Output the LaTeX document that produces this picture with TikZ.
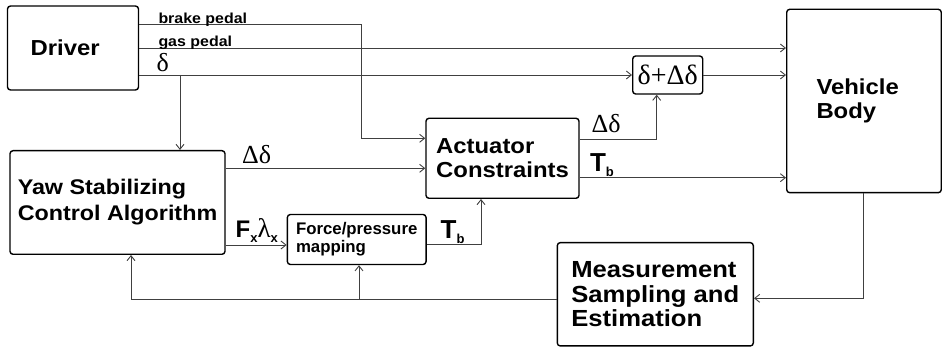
\documentclass[tikz,border=0pt]{standalone}
\usepackage{fontspec}
\setmainfont{Liberation Sans}
\newfontfamily\widesf[FakeStretch=1.1]{Liberation Sans}
\newfontfamily\timesf{Liberation Serif}
\usetikzlibrary{arrows.meta, positioning}
\newcommand{\lowsub}[1]{\raisebox{-5pt}{\fontsize{13}{13}\selectfont\bfseries #1}}

\begin{document}
\begin{tikzpicture}[
x=1pt, y=-1pt,
block/.style = {draw, line width=1.4pt, rounded corners=3pt, align=left,
                inner sep=0pt, font=\widesf\bfseries\fontsize{21.7}{24.5}\selectfont},
sig/.style = {draw=black!75, line width=0.9pt,
              -{Straight Barb[length=5pt,width=8pt]}},
lbl/.style = {inner sep=0pt, anchor=base west,
              font=\widesf\bfseries\fontsize{14.5}{17}\selectfont},
grk/.style = {inner sep=0pt, anchor=base west,
              font=\timesf\fontsize{26}{28}\selectfont},
big/.style = {inner sep=0pt, anchor=base west,
              font=\bfseries\fontsize{26}{28}\selectfont},
                        ]
\useasboundingbox (0,0) rectangle (943,347);
% blocks
\node (drv)  [block, minimum width=131pt, minimum height=84pt,
              text width=84.6pt]                                at (73,48)     {Driver};
\node (yaw)  [block, minimum width=215pt, minimum height=103.6pt,
              font=\widesf\bfseries\fontsize{21.2}{26}\selectfont] at (117.5,202.5) {Yaw Stabilizing\\Control Algorithm};
\node (frc)  [block, minimum width=138.7pt, minimum height=50pt,
              font=\bfseries\fontsize{16.8}{18}\selectfont]    at (356.7,239.5) {Force/pressure\\mapping};
\node (act)  [block, minimum width=153pt, minimum height=80pt]  at (502.5,158.3) {Actuator\\Constraints};
\node (sum)  [block, minimum width=70pt, minimum height=38pt,
              font=\timesf\fontsize{28}{30}\selectfont]        at (667.7,75)  {δ+Δδ};
\node (veh)  [block, minimum width=154.5pt, minimum height=183.4pt,
              text width=95pt]                                  at (864,101)   {Vehicle\\Body};
\node (meas) [block, minimum width=196pt, minimum height=103.3pt,
              font=\widesf\bfseries\fontsize{23.3}{24.5}\selectfont] at (655.3,294.3) {Measurement\\Sampling and\\Estimation};
% signals
\coordinate (dsplit) at (180,75);
\coordinate (fb) at ([yshift=-5pt]meas.west);
\draw[sig] ([yshift=24pt]drv.east) -- ++(222,0) |- ([yshift=20pt]act.west);
\draw[sig] (drv.east) -- (drv.east -| veh.west);
\draw[sig] ([yshift=-27pt]drv.east) -- (sum.west);
\draw[sig] (dsplit) -- (dsplit |- yaw.north);
\draw[sig] (sum.east) -- (sum.east -| veh.west);
\draw[sig] ([yshift=-10pt]act.west -| yaw.east) -- ([yshift=-10pt]act.west);
\draw[sig] ([yshift=-5.5pt]frc.west -| yaw.east) -- ([yshift=-5.5pt]frc.west);
\draw[sig] ([yshift=-5pt]frc.east) -| ([xshift=-21.5pt]act.south);
\draw[sig] ([yshift=19pt]act.east) -| ([xshift=-11pt]sum.south);
\draw[sig] ([yshift=-19.4pt]act.east) -- ([yshift=-19.4pt]act.east -| veh.west);
\draw[sig] ([xshift=-1pt]veh.south) |- ([yshift=-4pt]meas.east);
\draw[sig] (fb) -| ([xshift=13.5pt]yaw.south);
\draw[sig] ([xshift=2.3pt]frc.south |- fb) -- ([xshift=2.3pt]frc.south);
% labels
\node (lbrake) [lbl] at (158.3,23.5) {brake pedal};
\node (lgas)   [lbl] at (158.3,46.5) {gas pedal};
\node (ldelta) [grk] at (156.5,71.7) {δ};
\node (ldd1)   [grk] at (242,164) {Δδ};
\node (ldd2)   [grk] at (591.5,133) {Δδ};
\node (ltb1)   [big] at (440.5,238.3) {T\lowsub{b}};
\node (ltb2)   [big] at (589.8,171.7) {T\lowsub{b}};
\node (lfl)    [big, font=\bfseries\fontsize{24}{25}\selectfont] at (235.5,238)
               {F\lowsub{x}{\timesf\mdseries\fontsize{27}{28}\selectfont λ}\lowsub{x}};
\end{tikzpicture}
\end{document}
